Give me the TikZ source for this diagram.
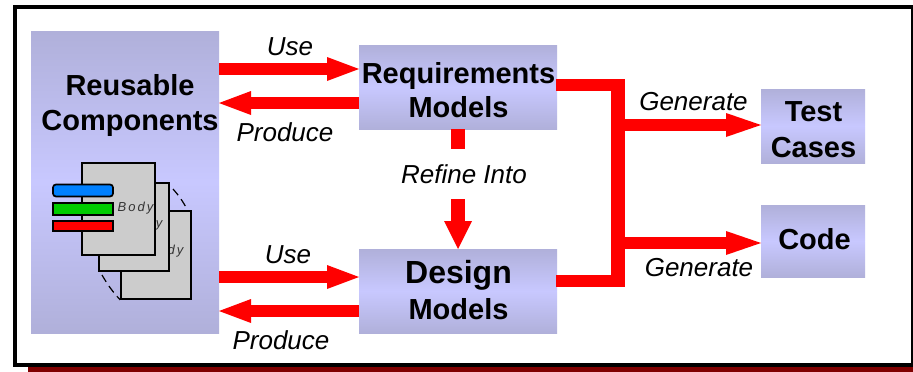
\documentclass[tikz,border=0pt]{standalone}
\usepackage{fontspec}
\usepackage{tikz}
\usepackage{xcolor}
\setmainfont{Liberation Sans}
\usetikzlibrary{arrows.meta}
\definecolor{boxedge}{HTML}{B0B0DA}
\definecolor{boxmid}{HTML}{C8C8FF}
\definecolor{shadowred}{HTML}{800000}
\definecolor{pagegray}{HTML}{CCCCCC}
\definecolor{barblue}{HTML}{0080FF}
\definecolor{bargreen}{HTML}{00CC00}
\tikzset{
  modelbox/.style={rectangle,inner sep=0pt,outer sep=0pt,top color=boxedge,bottom color=boxedge,middle color=boxmid},
  boxtext/.style={align=center,inner sep=0pt,font=\fontsize{29}{34}\selectfont\bfseries},
  flowline/.style={draw=red,line width=12pt},
  flowarrow/.style={flowline,-{Triangle[length=32pt,width=24pt,line width=0pt,fill=red]}},
  genarrow/.style={flowline,-{Triangle[length=35pt,width=24pt,line width=0pt,fill=red]}},
  flowlabel/.style={font=\fontsize{26}{30}\selectfont\itshape,inner sep=0pt},
  pagebox/.style={draw=black,line width=1.7pt,fill=pagegray,rectangle,inner sep=0pt},
  pagetext/.style={font=\fontsize{13}{16}\selectfont\itshape,text=black!80,inner sep=0pt},
  barbox/.style={draw=black,line width=1.7pt,rectangle,inner sep=0pt,minimum width=60pt},
  arcline/.style={line width=1.2pt,dash pattern=on 8pt off 5pt}
}
\newcommand{\bodyword}{B\kern2pt o\kern2pt d\kern2pt y}
\begin{document}
\begin{tikzpicture}[x=1pt,y=-1pt]
\useasboundingbox (0,0) rectangle (913,372);
\fill[shadowred] (28,360) rectangle (913,372);
\draw[line width=4pt,fill=white] (15,7) rectangle (913,365);

\node[modelbox,minimum width=188pt,minimum height=302pt] (reusable) at (125,182) {};
\node[modelbox,minimum width=198pt,minimum height=84pt] (reqs) at (458,87) {};
\node[modelbox,minimum width=198pt,minimum height=84pt] (design) at (458,291) {};
\node[modelbox,minimum width=104pt,minimum height=74pt] (tests) at (813,126) {};
\node[modelbox,minimum width=104pt,minimum height=72pt] (code) at (813,241) {};

\node[boxtext,font=\fontsize{29}{35}\selectfont\bfseries] (reusabletext) at (130,106) {Reusable\\Components};
\node[boxtext] (reqstext) at (458.5,90.5) {Requirements\\Models};
\node[boxtext,font=\fontsize{29}{36}\selectfont\bfseries] (designtext) at (458.5,290) {{\fontsize{32}{36}\selectfont Design}\\Models};
\node[boxtext,font=\fontsize{29}{36}\selectfont\bfseries] (teststext) at (813.5,129.5) {Test\\Cases};
\node[boxtext] (codetext) at (814.5,239) {Code};

\node[pagebox,minimum width=70pt,minimum height=88pt] (pagec) at (156,255) {};
\node[pagetext] (bodyc) at (165.5,251) {\bodyword};
\node[pagebox,minimum width=70pt,minimum height=88pt] (pageb) at (134,227) {};
\node[pagetext] (bodyb) at (144.5,224) {\bodyword};
\node[pagebox,minimum width=73pt,minimum height=92pt] (pagea) at (118.5,209) {};
\node[pagetext] (bodya) at (135.5,208) {\bodyword};
\coordinate (arcend) at (187,209);
\draw[arcline] (173,189) to[bend left=6] (arcend);
\draw[arcline] (102,275) to[bend right=6] (pagec.south west);

\node[barbox,fill=barblue,minimum height=12pt,rounded corners=3pt] (bluebar) at (83,190.5) {};
\node[barbox,fill=bargreen,minimum height=12pt] (greenbar) at (83,209) {};
\node[barbox,fill=red,minimum height=10pt] (redbar) at (83,226) {};

\coordinate (usea) at (0,69);
\coordinate (proa) at (0,103);
\coordinate (useb) at (0,277);
\coordinate (prob) at (0,311);
\draw[flowarrow] (reusable.east |- usea) -- (reqs.west |- usea);
\draw[flowarrow] (reqs.west |- proa) -- (reusable.east |- proa);
\draw[flowarrow] (reusable.east |- useb) -- (design.west |- useb);
\draw[flowarrow] (design.west |- prob) -- (reusable.east |- prob);

\coordinate (refine) at (458,199);
\draw[draw=red,line width=14pt] (reqs.south) -- ++(0,20);
\draw[draw=red,line width=14pt,-{Triangle[length=28pt,width=28pt,line width=0pt,fill=red]}] (refine) -- (design.north);

\coordinate (reqsout) at (556,85);
\coordinate (designout) at (556,281);
\coordinate (trunka) at (618,125);
\coordinate (trunkb) at (618,243);
\draw[flowline] (reqsout) -- (618,85);
\draw[flowline] (designout) -- (618,281);
\draw[draw=red,line width=14pt] (618,79) -- (618,287);
\draw[genarrow] (trunka) -- (tests.west |- trunka);
\draw[genarrow] (trunkb) -- (code.west |- trunkb);

\node[flowlabel] (labusea) at (290,47) {Use};
\node[flowlabel] (labproa) at (285,132) {Produce};
\node[flowlabel] (labrefine) at (464,174) {Refine Into};
\node[flowlabel] (labuseb) at (288,255) {Use};
\node[flowlabel] (labprob) at (281,340) {Produce};
\node[flowlabel] (labgena) at (693.5,102) {Generate};
\node[flowlabel] (labgenb) at (699,268) {Generate};
\end{tikzpicture}
\end{document}
